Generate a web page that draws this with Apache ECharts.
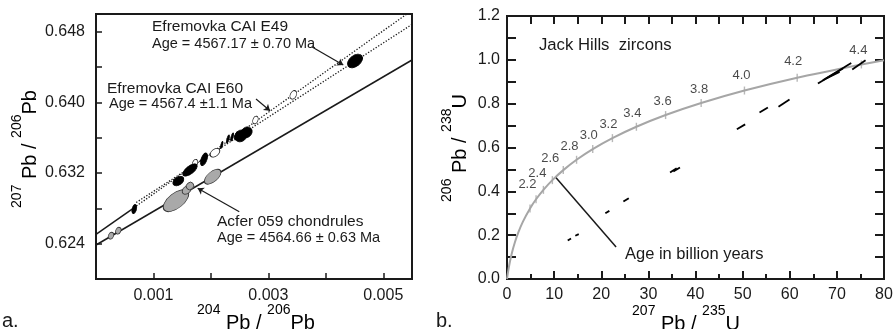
<!DOCTYPE html>
<html>
<head>
<meta charset="utf-8">
<script src="https://cdn.jsdelivr.net/npm/echarts@6/dist/echarts.min.js"></script>
<style>
  html, body { margin: 0; padding: 0; background: #fff; }
  #chart { width: 896px; height: 329px; }
</style>
</head>
<body>
<div id="chart"></div>
<script>
// ---------- panel a: Pb-Pb isochrons ----------
const isoXLabels = ['0.001', '0.003', '0.005'];
const isoYLabels = ['0.624', '0.632', '0.640', '0.648'];

// regression lines (end points in data units)
const acferLine = [[0, 0.62385], [0.0055, 0.64479]];
const caiSolidLine = [[0, 0.62506], [0.00066, 0.62806]];
const caiUpperDotted = [[0.00066, 0.62806], [0.00541, 0.6500]];
const caiLowerDotted = [[0.0007, 0.62866], [0.0055, 0.64882]];

// measured points
const caiBlack = [
  [0.000667, 0.62792], [0.001433, 0.63109], [0.001636, 0.63234], [0.00188, 0.63355],
  [0.00252, 0.6362], [0.00262, 0.6366], [0.004508, 0.64468],
  [0.002188, 0.63517], [0.002297, 0.63585], [0.00237, 0.63608], [0.00244, 0.6362]
];
const caiOpen = [[0.001723, 0.6331], [0.002071, 0.6343], [0.002775, 0.6380], [0.003434, 0.64085]];
const acferGray = [
  [0.000261, 0.6249], [0.000388, 0.62547], [0.001392, 0.62886],
  [0.001578, 0.63007], [0.001636, 0.63053], [0.002031, 0.63158]
];

// ellipse drawing shape: [width px, height px, rotation deg]
const caiBlackShape = [
  [4.5, 9, -15], [12, 8, 35], [17, 8, 38], [6, 13, -20],
  [13, 11, 40], [12, 10, 40], [17, 11, 38],
  [2, 7, -15], [2.5, 8, -15], [2.5, 8, -15], [2.5, 8, -15]
];
const caiOpenShape = [[5, 8, -20], [11, 7, 38], [5, 8, -20], [6, 9, -25]];
const acferGrayShape = [[5, 7, -25], [5, 7, -25], [30, 15, 38], [10, 7, 40], [8, 7, 40], [20, 10, 40]];

// annotation leader lines
const isoArrows = [
  [[0.003754, 0.64630], [0.004304, 0.64423]],
  [[0.002785, 0.64038], [0.003029, 0.63905]],
  [[0.002494, 0.62762], [0.00177, 0.63027]]
];

// ---------- panel b: concordia ----------
const concXLabels = ['0', '10', '20', '30', '40', '50', '60', '70', '80'];
const concYLabels = ['0.0', '0.2', '0.4', '0.6', '0.8', '1.0', '1.2'];

const concordiaX = [0, 0.0505, 0.1035, 0.2792, 0.6362, 1.0931, 1.6774, 2.4249, 3.3813,
  4.887, 6.169, 7.729, 9.629, 11.944, 14.762, 18.193, 22.371, 27.46, 33.657, 41.201, 50.388, 61.576, 75.198, 80];
const concordiaY = [0, 0.0078, 0.0156, 0.0395, 0.0807, 0.1234, 0.1678, 0.214, 0.262,
  0.3221, 0.3638, 0.4067, 0.4511, 0.4968, 0.5439, 0.5926, 0.6428, 0.6946, 0.748, 0.803, 0.8599, 0.9185, 0.9789, 0.998];

// age ticks along the curve (Ga)
const tickAges = ['1.8', '2.0', '2.2', '2.4', '2.6', '2.8', '3.0', '3.2', '3.4', '3.6', '3.8', '4.0', '4.2', '4.4'];
const tickX = [4.887, 6.169, 7.729, 9.629, 11.944, 14.762, 18.193, 22.371, 27.46, 33.657, 41.201, 50.388, 61.576, 75.198];
const tickY = [0.3221, 0.3638, 0.4067, 0.4511, 0.4968, 0.5439, 0.5926, 0.6428, 0.6946, 0.748, 0.803, 0.8599, 0.9185, 0.9789];
const labelledAges = ['2.2', '2.4', '2.6', '2.8', '3.0', '3.2', '3.4', '3.6', '3.8', '4.0', '4.2', '4.4'];
const ageLabelOffsets = [[-16, -5], [-15, -7], [-13, -12], [-7, -13], [-4, -14], [-4, -14],
  [-4, -13], [-3, -14], [-2, -14], [-3, -15], [-4, -16], [-3, -14]];

// zircon analyses (error bars as short segments x1, y1, x2, y2)
const zircons = [
  [12.89, 0.1757, 13.59, 0.1848], [14.50, 0.1971, 15.23, 0.2048],
  [20.87, 0.3004, 21.72, 0.3109], [24.70, 0.3532, 25.84, 0.3687],
  [34.6, 0.486, 36.0, 0.505], [35.3, 0.490, 36.7, 0.509],
  [48.78, 0.6828, 50.54, 0.7055], [53.58, 0.7601, 55.36, 0.7829], [57.61, 0.7856, 59.95, 0.8193],
  [65.98, 0.8921, 71.29, 0.9604], [67.04, 0.9071, 73.05, 0.9859], [67.74, 0.9149, 70.57, 0.9449],
  [73.26, 0.9558, 76.09, 0.9982]
];
const ageLeader = [[10.41, 0.4625], [23.15, 0.1457]];

// ---------- chart ----------
const FONT = 'Liberation Sans, Arial, sans-serif';
const INK = '#1a1a1a';

const chart = echarts.init(document.getElementById('chart'), null, { renderer: 'canvas' });

const pick = (list, digits) => v => {
  const s = v.toFixed(digits);
  return list.includes(s) ? s : '';
};

const axisBase = {
  type: 'value',
  splitLine: { show: false },
  axisLine: { show: true, onZero: false, lineStyle: { color: INK, width: 2 } },
  axisLabel: { color: INK, fontSize: 16, fontFamily: FONT }
};

const ellipseSeries = (pts, shapes, fill, border) => ({
  type: 'scatter',
  xAxisIndex: 0, yAxisIndex: 0,
  symbol: 'circle',
  data: pts.map((p, i) => ({
    value: p,
    symbolSize: [shapes[i][0], shapes[i][1]],
    symbolRotate: shapes[i][2]
  })),
  itemStyle: { color: fill, borderColor: border, borderWidth: 0.8, opacity: 1 },
  z: 5,
  silent: true
});

const lineSeries = (pts, type, width) => ({
  type: 'line',
  xAxisIndex: 0, yAxisIndex: 0,
  data: pts,
  symbol: 'none',
  lineStyle: { color: INK, width: width, type: type },
  z: 3,
  silent: true
});

const supName = (a, b, c, d) => `{s|${a}}{b| ${b} / }{s|${c}}{b|${d}}`;
const supRich = {
  s: { fontSize: 14, fontFamily: FONT, color: INK, verticalAlign: 'top', lineHeight: 14 },
  b: { fontSize: 20, fontFamily: FONT, color: INK, verticalAlign: 'bottom', lineHeight: 30 }
};

const txt = (x, y, text, size, extra) => Object.assign({
  type: 'text', x: x, y: y,
  style: { text: text, fill: INK, font: `${size}px ${FONT}`, textAlign: 'left', textVerticalAlign: 'middle' }
}, extra || {});

const axisName = (x, y, text, rot) => ({
  type: 'text', x: x, y: y, rotation: rot,
  style: { text: text, rich: supRich, textAlign: 'center', textVerticalAlign: 'middle' }
});

const option = {
  animation: false,
  backgroundColor: '#fff',
  grid: [
    { left: 96, top: 14, width: 316, height: 265, show: true, borderColor: INK, borderWidth: 2 },
    { left: 507, top: 16, width: 377, height: 263, show: true, borderColor: INK, borderWidth: 2 }
  ],
  xAxis: [
    Object.assign({}, axisBase, {
      gridIndex: 0, min: 0, max: 0.0055, interval: 0.001,
      axisTick: { inside: true, length: 6, lineStyle: { color: INK, width: 1.5 } },
      axisLabel: Object.assign({}, axisBase.axisLabel, { margin: 9, formatter: pick(isoXLabels, 3) })
    }),
    Object.assign({}, axisBase, {
      gridIndex: 1, min: 0, max: 80, interval: 10,
      axisTick: { inside: true, length: 8, lineStyle: { color: INK, width: 2 } },
      minorTick: { show: true, splitNumber: 2, length: 5, lineStyle: { color: INK, width: 2 } },
      axisLabel: Object.assign({}, axisBase.axisLabel, { margin: 8, formatter: pick(concXLabels, 0) })
    }),
    Object.assign({}, axisBase, {
      gridIndex: 1, position: 'top', min: 0, max: 80, interval: 10,
      axisTick: { inside: true, length: 8, lineStyle: { color: INK, width: 2 } },
      minorTick: { show: true, splitNumber: 2, length: 8, lineStyle: { color: INK, width: 2 } },
      axisLabel: { show: false }
    })
  ],
  yAxis: [
    Object.assign({}, axisBase, {
      gridIndex: 0, min: 0.620, max: 0.650, interval: 0.004,
      axisTick: { inside: true, length: 6, lineStyle: { color: INK, width: 1.5 } },
      axisLabel: Object.assign({}, axisBase.axisLabel, { margin: 11, formatter: pick(isoYLabels, 3) })
    }),
    Object.assign({}, axisBase, {
      gridIndex: 1, min: 0, max: 1.2, interval: 0.2,
      axisTick: { inside: true, length: 9, lineStyle: { color: INK, width: 2 } },
      minorTick: { show: true, splitNumber: 2, length: 9, lineStyle: { color: INK, width: 2 } },
      axisLabel: Object.assign({}, axisBase.axisLabel, { margin: 7, formatter: pick(concYLabels, 1) })
    }),
    Object.assign({}, axisBase, {
      gridIndex: 1, position: 'right', min: 0, max: 1.2, interval: 0.2,
      axisTick: { inside: true, length: 9, lineStyle: { color: INK, width: 2 } },
      minorTick: { show: true, splitNumber: 2, length: 9, lineStyle: { color: INK, width: 2 } },
      axisLabel: { show: false }
    })
  ],
  series: [
    // panel a
    lineSeries(acferLine, 'solid', 1.5),
    lineSeries(caiSolidLine, 'solid', 1.5),
    lineSeries(caiUpperDotted, [1.3, 1.7], 1.3),
    lineSeries(caiLowerDotted, [1.3, 1.7], 1.3),
    ellipseSeries(acferGray, acferGrayShape, '#a9a9a9', '#333'),
    ellipseSeries(caiOpen, caiOpenShape, '#ffffff', INK),
    ellipseSeries(caiBlack, caiBlackShape, '#000000', '#000'),
    {
      type: 'lines', coordinateSystem: 'cartesian2d', xAxisIndex: 0, yAxisIndex: 0,
      data: isoArrows.map(c => ({ coords: c })),
      symbol: ['none', 'arrow'], symbolSize: 6,
      lineStyle: { color: INK, width: 1.2, opacity: 1 },
      z: 6, silent: true
    },
    // panel b
    {
      type: 'line', xAxisIndex: 1, yAxisIndex: 1,
      data: concordiaX.map((x, i) => [x, concordiaY[i]]),
      symbol: 'none', smooth: 0.2,
      lineStyle: { color: '#a6a6a6', width: 2 },
      z: 3, silent: true
    },
    {
      type: 'scatter', xAxisIndex: 1, yAxisIndex: 1,
      data: tickAges.map((a, i) => [tickX[i], tickY[i], a]),
      symbol: 'rect', symbolSize: [1.4, 8],
      itemStyle: { color: '#a6a6a6' },
      z: 4, silent: true
    },
    {
      type: 'scatter', xAxisIndex: 1, yAxisIndex: 1,
      data: labelledAges.map((a, i) => {
        const k = tickAges.indexOf(a);
        return {
          value: [tickX[k], tickY[k]],
          label: {
            show: true, formatter: a, position: 'inside', offset: ageLabelOffsets[i],
            color: INK, fontSize: 13, fontFamily: FONT
          }
        };
      }),
      symbolSize: 0,
      z: 6, silent: true
    },
    {
      type: 'lines', coordinateSystem: 'cartesian2d', xAxisIndex: 1, yAxisIndex: 1,
      data: zircons.map(s => ({ coords: [[s[0], s[1]], [s[2], s[3]]] })),
      lineStyle: { color: '#000', width: 1.8, opacity: 1 },
      z: 5, silent: true
    },
    {
      type: 'lines', coordinateSystem: 'cartesian2d', xAxisIndex: 1, yAxisIndex: 1,
      data: [{ coords: ageLeader }],
      lineStyle: { color: INK, width: 1.5, opacity: 1 },
      z: 5, silent: true
    }
  ],
  graphic: [
    txt(152, 27, 'Efremovka CAI E49', 15.5),
    txt(152, 44, 'Age = 4567.17 \u00b1 0.70 Ma', 14.5),
    txt(107, 89, 'Efremovka CAI E60', 15.5),
    txt(109, 104, 'Age = 4567.4 \u00b11.1 Ma', 14.5),
    txt(217, 222, 'Acfer 059 chondrules', 15.5),
    txt(217, 238, 'Age = 4564.66 \u00b1 0.63 Ma', 14.5),
    txt(539, 45, 'Jack Hills  zircons', 16.7),
    txt(625, 254, 'Age in billion years', 16.5),
    txt(2, 321, 'a.', 20),
    txt(436, 321, 'b.', 20),
    axisName(256, 318, supName('204', 'Pb', '206', 'Pb'), 0),
    axisName(25, 149, supName('207', 'Pb', '206', 'Pb'), Math.PI / 2),
    axisName(686, 319, supName('207', 'Pb', '235', 'U'), 0),
    axisName(455, 148, supName('206', 'Pb', '238', 'U'), Math.PI / 2)
  ]
};

chart.setOption(option);
</script>
</body>
</html>
